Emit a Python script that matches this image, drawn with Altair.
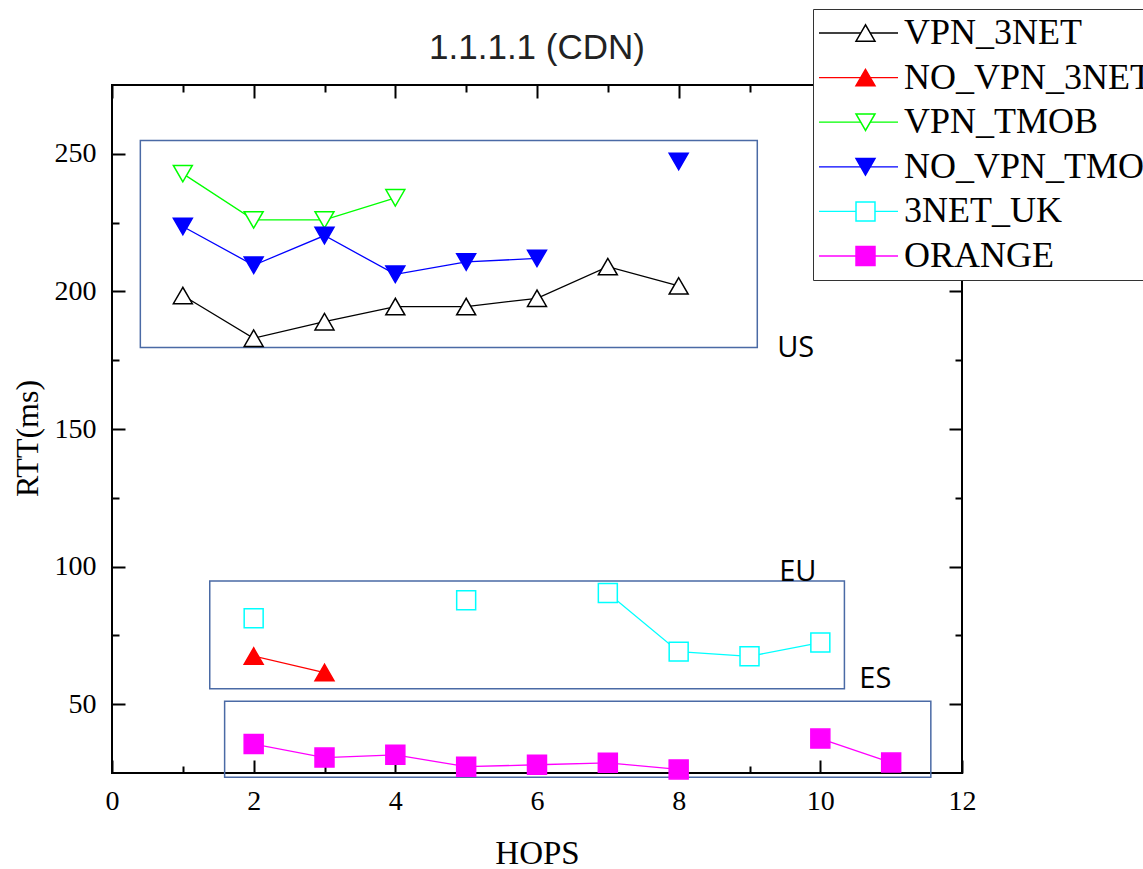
import altair as alt
import pandas as pd

# ---------------- data ----------------
HOPS = [1, 2, 3, 4, 5, 6, 7, 8, 9, 10, 11]
SERIES = ["VPN_3NET", "NO_VPN_3NET", "VPN_TMOB", "NO_VPN_TMOB", "3NET_UK", "ORANGE"]

VPN_3NET = [198.5, 183.0, 189.0, 194.5, 194.5, 197.5, 209.0, 202.0, None, None, None]
NO_VPN_3NET = [None, 67.5, 61.5, None, None, None, None, None, None, None, None]
VPN_TMOB = [242.8, 226.0, 226.0, 234.0, None, None, None, None, None, None, None]
NO_VPN_TMOB = [223.6, 209.5, 220.3, 206.2, 210.7, 212.0, None, 247.2, None, None, None]
UK_3NET = [None, 81.2, None, None, 87.8, None, 90.4, 69.1, 67.4, 72.4, None]
ORANGE = [None, 35.5, 30.6, 31.6, 27.3, 28.0, 28.7, 26.3, None, 37.5, 28.8]

VALUES = [VPN_3NET, NO_VPN_3NET, VPN_TMOB, NO_VPN_TMOB, UK_3NET, ORANGE]

# region annotations (data units)
REGION_NAMES = ["US", "EU", "ES"]
REGION_X1 = [0.40, 1.38, 1.59]
REGION_X2 = [9.11, 10.34, 11.56]
REGION_Y1 = [179.6, 55.6, 23.5]
REGION_Y2 = [254.8, 94.8, 51.1]
REGION_LABEL_X = [9.39, 9.42, 10.55]
REGION_LABEL_Y = [176.1, 94.7, 56.0]

# tick values
X_MAJOR = [0, 2, 4, 6, 8, 10, 12]
X_MINOR = [1, 3, 5, 7, 9, 11]
Y_MAJOR = [50, 100, 150, 200, 250]
Y_MINOR = [75, 125, 175, 225]

# styles
COLORS = ["#000000", "#ff0000", "#00ff00", "#0000ff", "#00ffff", "#ff00ff"]
FILLS = ["#ffffff", "#ff0000", "#ffffff", "#0000ff", "#ffffff", "#ff00ff"]
SHAPES = ["triangle-up", "triangle-up", "triangle-down", "triangle-down", "square", "square"]
SIZES = [360, 360, 360, 360, 185, 185]
CODES = ["s0", "s1", "s2", "s3", "s4", "s5"]

rows = []
for name, code, vals in zip(SERIES, CODES, VALUES):
    seg = 0
    prev = None
    for h, v in zip(HOPS, vals):
        if v is None:
            continue
        if prev is not None and h - prev > 1:
            seg += 1
        rows.append({"series": name, "code": code, "hop": h, "rtt": v, "seg": f"{name}-{seg}"})
        prev = h
df = pd.DataFrame(rows)

regions = pd.DataFrame({
    "name": REGION_NAMES, "x1": REGION_X1, "x2": REGION_X2,
    "y1": REGION_Y1, "y2": REGION_Y2, "lx": REGION_LABEL_X, "ly": REGION_LABEL_Y,
})

xs = alt.Scale(domain=[0, 12], nice=False, zero=False)
ys = alt.Scale(domain=[25, 275], nice=False, zero=False)

SERIF = "Liberation Serif"
MAJ = 13
MIN = 7

def ax(orient, values, size, labels=False, title=None, **kw):
    return alt.Axis(orient=orient, values=values, tickSize=size, offset=-size,
                    domain=False, grid=False, labels=labels, title=title,
                    tickColor="black", tickWidth=2, **kw)

x_bottom_major = ax("bottom", X_MAJOR, MAJ, labels=True, title="HOPS",
                    labelFont=SERIF, labelFontSize=28, labelColor="black",
                    labelPadding=14, labelFlush=False, labelOverlap=False, format="d",
                    titleFont=SERIF, titleFontSize=33, titleFontWeight="normal",
                    titleColor="black", titlePadding=22)
y_left_major = ax("left", Y_MAJOR, MAJ, labels=True, title="RTT(ms)",
                  labelFont=SERIF, labelFontSize=28, labelColor="black",
                  labelPadding=16, labelFlush=False, labelOverlap=False, format="d",
                  titleFont=SERIF, titleFontSize=32, titleFontWeight="normal",
                  titleColor="black", titlePadding=10, titleY=353)
x_bottom_minor = ax("bottom", X_MINOR, MIN)
y_left_minor = ax("left", Y_MINOR, MIN)
x_top_major = ax("top", X_MAJOR, MAJ)
y_right_major = ax("right", Y_MAJOR, MAJ)
x_top_minor = ax("top", X_MINOR, MIN)
y_right_minor = ax("right", Y_MINOR, MIN)

LEG_X = 701
LEG_Y = -76
LEG_FONT = 36

line_legend = alt.Legend(
    orient="none", legendX=LEG_X, legendY=LEG_Y, title=None,
    symbolType="stroke", symbolSize=6400, symbolStrokeWidth=1.3,
    symbolOffset=-2, labelOffset=5, clipHeight=36, rowPadding=8.6,
    labelFont=SERIF, labelFontSize=LEG_FONT, labelColor="black", labelLimit=600,
    padding=6, fillColor="white", strokeColor="#333333", zindex=1,
)
point_legend = alt.Legend(
    orient="none", legendX=LEG_X, legendY=LEG_Y, title=None,
    symbolStrokeWidth=1.5, symbolOffset=28.5, labelOffset=5, clipHeight=36,
    rowPadding=8.6, labelFont=SERIF, labelFontSize=LEG_FONT, labelOpacity=0,
    labelLimit=600, padding=6, zindex=2, symbolOpacity=1,
)

boxes = alt.Chart(regions).mark_rect(fill=None, stroke="#4a6aa5", strokeWidth=1.5).encode(
    x=alt.X("x1:Q", scale=xs, axis=x_bottom_minor),
    x2="x2:Q",
    y=alt.Y("y1:Q", scale=ys, axis=y_left_minor),
    y2="y2:Q",
)

lines = alt.Chart(df).mark_line(strokeWidth=1.3).encode(
    x=alt.X("hop:Q", scale=xs, axis=x_bottom_major),
    y=alt.Y("rtt:Q", scale=ys, axis=y_left_major),
    color=alt.Color("series:N", scale=alt.Scale(domain=SERIES, range=COLORS), legend=line_legend),
    detail="seg:N",
    order="hop:Q",
)

points = alt.Chart(df).mark_point(opacity=1, strokeWidth=1.5, filled=False).encode(
    x=alt.X("hop:Q", scale=xs, axis=x_top_major),
    y=alt.Y("rtt:Q", scale=ys, axis=y_right_major),
    shape=alt.Shape("code:N", scale=alt.Scale(domain=CODES, range=SHAPES), legend=point_legend),
    stroke=alt.Stroke("code:N", scale=alt.Scale(domain=CODES, range=COLORS), legend=point_legend),
    fill=alt.Fill("code:N", scale=alt.Scale(domain=CODES, range=FILLS), legend=point_legend),
    size=alt.Size("code:N", scale=alt.Scale(domain=CODES, range=SIZES), legend=point_legend),
)

labels = alt.Chart(regions).mark_text(
    font="Open Sans", fontSize=29, color="black", align="left", baseline="alphabetic"
).encode(
    x=alt.X("lx:Q", scale=xs, axis=x_top_minor),
    y=alt.Y("ly:Q", scale=ys, axis=y_right_minor),
    text="name:N",
)

chart = alt.layer(boxes, lines, points, labels).resolve_axis(
    x="independent", y="independent"
).properties(
    width=850, height=688,
    title=alt.TitleParams("1.1.1.1 (CDN)", font="Liberation Sans", fontSize=35,
                          fontWeight="normal", color="#222222", anchor="middle",
                          baseline="alphabetic", offset=20, dy=105),
    padding={"left": 112, "top": 85, "right": 181, "bottom": 96},
    autosize=alt.AutoSizeParams(type="none"),
    background="white",
).configure_view(stroke="black", strokeWidth=2)

chart.save("out.html", embed_options={"renderer": "svg", "actions": False})
